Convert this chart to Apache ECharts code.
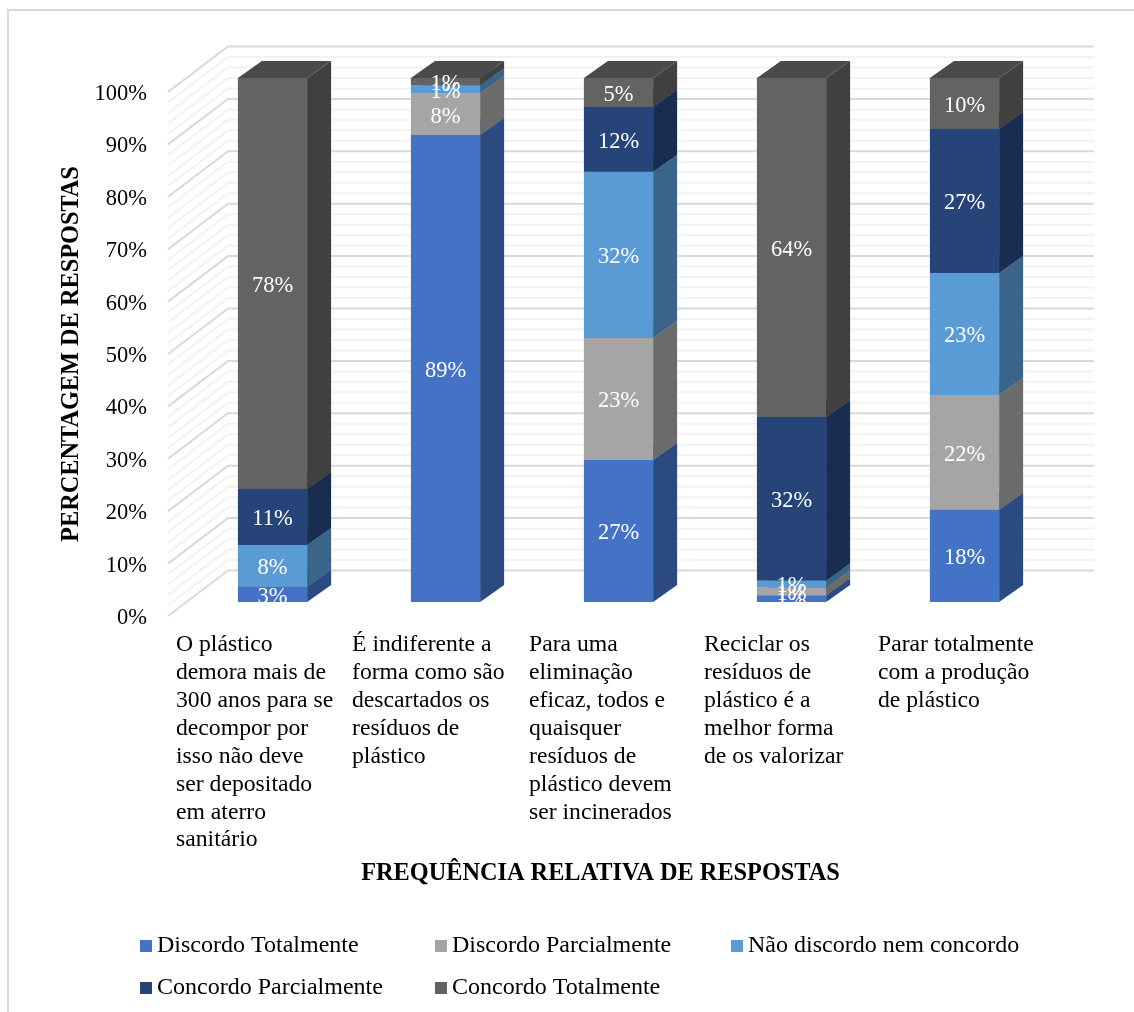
<!DOCTYPE html>
<html><head><meta charset="utf-8">
<style>html,body{margin:0;padding:0;background:#fff}#c{width:1134px;height:1012px}</style>
<script src="https://cdn.jsdelivr.net/npm/echarts@6/dist/echarts.min.js"></script>
</head><body><div id="c"></div>
<script>
const categories = [
  "O plástico\ndemora mais de\n300 anos para se\ndecompor por\nisso não deve\nser depositado\nem aterro\nsanitário",
  "É indiferente a\nforma como são\ndescartados os\nresíduos de\nplástico",
  "Para uma\neliminação\neficaz, todos e\nquaisquer\nresíduos de\nplástico devem\nser incinerados",
  "Reciclar os\nresíduos de\nplástico é a\nmelhor forma\nde os valorizar",
  "Parar totalmente\ncom a produção\nde plástico"
];
const yTicks = [0,2,4,6,8,10,12,14,16,18,20,22,24,26,28,30,32,34,36,38,40,42,44,46,48,50,52,54,56,58,60,62,64,66,68,70,72,74,76,78,80,82,84,86,88,90,92,94,96,98,100];
const discordoTotalmente   = [2.9, 89.1, 27.1, 1.3, 17.6];
const discordoParcialmente = [0, 8.0, 23.3, 1.5, 21.9];
const naoDiscordo          = [8.0, 1.5, 31.7, 1.3, 23.3];
const concordoParcialmente = [10.7, 0, 12.4, 31.2, 27.5];
const concordoTotalmente   = [78.4, 1.4, 5.5, 64.7, 9.7];
const labelsDT = ["3%","89%","27%","1%","18%"];
const labelsDP = ["","8%","23%","1%","22%"];
const labelsND = ["8%","1%","32%","1%","23%"];
const labelsCP = ["11%","","12%","32%","27%"];
const labelsCT = ["78%","1%","5%","64%","10%"];

const FONT = '"Liberation Serif","Times New Roman",serif';
const labelBoxWidths = [157,151,143,139,137];
const BAR_OFF = [18,-14], BAR_DEPTH = [24,-17], WALL = [60,-45.5];

const defs = [
  {name:"Discordo Totalmente",   v:discordoTotalmente,   l:labelsDT, front:"#4472C4", side:"#2A4A80", top:"#34589A", left:140, top0:934},
  {name:"Discordo Parcialmente", v:discordoParcialmente, l:labelsDP, front:"#A5A5A5", side:"#6B6B6B", top:"#808080", left:435, top0:934},
  {name:"Não discordo nem concordo", v:naoDiscordo,      l:labelsND, front:"#5B9BD5", side:"#3A6589", top:"#4678A5", left:731, top0:934},
  {name:"Concordo Parcialmente", v:concordoParcialmente, l:labelsCP, front:"#264478", side:"#192D50", top:"#1E355D", left:140, top0:976},
  {name:"Concordo Totalmente",   v:concordoTotalmente,   l:labelsCT, front:"#636363", side:"#404040", top:"#4A4A4A", left:435, top0:976}
];
const base = categories.map(()=>0);
const series = [];

series.push({
  type:'custom', name:'wall', silent:true, z:1, animation:false,
  data: yTicks.map(t=>[0,t]), encode:{x:0,y:1},
  renderItem(params, api){
    const v = api.value(1), cs = params.coordSys, y = api.coord([0,v])[1], major = v%10===0;
    return {type:'polyline', silent:true,
      shape:{points:[[cs.x,y],[cs.x+WALL[0],y+WALL[1]],[cs.x+cs.width+WALL[0]+1,y+WALL[1]]]},
      style:{fill:null,stroke:major?'#D9D9D9':'#F2F2F2',lineWidth:2}, z2:major?2:1};
  }
});

defs.forEach((d,si)=>{
  const rows = d.v.map((val,i)=>{const r=[i,base[i],base[i]+val];base[i]+=val;return r;});
  series.push({
    type:'custom', name:d.name, z:2, animation:false, silent:true,
    itemStyle:{color:d.front},
    data:rows, encode:{x:0,y:[1,2]},
    renderItem(params, api){
      const i=api.value(0), a=api.value(1), b=api.value(2);
      if(b-a<=0) return null;
      const bw=api.size([1,0])[0]*0.4;
      const cx=api.coord([i,0])[0]+BAR_OFF[0];
      const y0=api.coord([i,a])[1]+BAR_OFF[1], y1=api.coord([i,b])[1]+BAR_OFF[1];
      const xl=cx-bw/2, xr=cx+bw/2, dx=BAR_DEPTH[0], dy=BAR_DEPTH[1];
      const txt=d.l[i];
      const ch=[
        {type:'polygon',shape:{points:[[xr,y0],[xr+dx,y0+dy],[xr+dx,y1+dy],[xr,y1]]},style:{fill:d.side},z2:10+si},
        {type:'polygon',shape:{points:[[xl,y1],[xr,y1],[xr+dx,y1+dy],[xl+dx,y1+dy]]},style:{fill:d.top},z2:10+si},
        {type:'rect',shape:{x:xl,y:y1,width:bw,height:y0-y1},style:{fill:d.front},z2:10+si}
      ];
      if(txt) ch.push({type:'text',z2:100,style:{text:txt,x:cx,y:(y0+y1)/2+2.5,align:'center',verticalAlign:'middle',fill:'#fff',font:'22.5px '+FONT}});
      return {type:'group',children:ch};
    }
  });
});

const rich={};
labelBoxWidths.forEach((w,i)=>{rich['a'+i]={width:w,align:'left',lineHeight:27.9,fontSize:23.7,fontFamily:FONT,color:'#000'};});

const option={
  backgroundColor:'#fff',
  animation:false,
  grid:{left:168,top:92,width:865,height:524,containLabel:false},
  xAxis:{type:'category',data:categories,
    name:'FREQUÊNCIA RELATIVA DE RESPOSTAS',nameLocation:'middle',nameGap:246,
    nameTextStyle:{fontFamily:FONT,fontWeight:'bold',fontSize:24.3,color:'#000'},
    axisLine:{show:false},axisTick:{show:false},splitLine:{show:false},
    axisLabel:{interval:0,margin:15,hideOverlap:false,
      formatter(v,idx){return v.split('\n').map(s=>'{a'+idx+'|'+s+'}').join('\n');},rich}},
  yAxis:{type:'value',min:0,max:100,interval:10,
    name:'PERCENTAGEM DE RESPOSTAS',nameLocation:'middle',nameGap:83,nameRotate:90,
    nameTextStyle:{fontFamily:FONT,fontWeight:'bold',fontSize:24.3,color:'#000'},
    axisLine:{show:false},axisTick:{show:false},splitLine:{show:false},
    axisLabel:{formatter:v=>'{t|'+v+'%}',margin:21,
      rich:{t:{fontFamily:FONT,fontSize:22.5,color:'#000',padding:[4,0,0,0]}}}},
  legend:defs.map(d=>({data:[d.name],left:d.left,top:d.top0,icon:'rect',itemWidth:12,itemHeight:12,padding:0,selectedMode:false,
    textStyle:{fontFamily:FONT,fontSize:24,color:'#000'}})),
  graphic:[{type:'rect',silent:true,z:0,shape:{x:8,y:10,width:1200,height:1100},style:{fill:null,stroke:'#D9D9D9',lineWidth:2}}],
  series
};
echarts.init(document.getElementById('c'),null,{renderer:'canvas'}).setOption(option);
</script></body></html>
